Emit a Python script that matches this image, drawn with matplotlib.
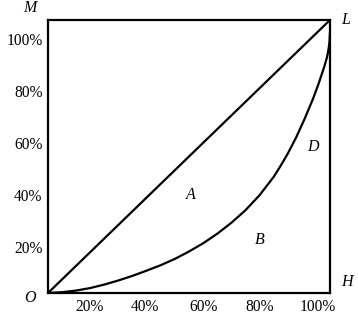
import matplotlib
matplotlib.use("Agg")
from matplotlib import pyplot as plt

plt.rcParams['font.family'] = ['Liberation Serif', 'DejaVu Serif']

# Lorenz curve (population share, income share)
pop_share = [0.0, 0.05, 0.1, 0.149, 0.2, 0.25, 0.3, 0.35, 0.4, 0.45, 0.5,
             0.55, 0.6, 0.65, 0.7, 0.75, 0.8, 0.825, 0.85, 0.88, 0.91, 0.94,
             0.96, 0.98, 0.99, 0.995, 0.998, 1.0]
inc_share = [0.0, 0.003, 0.009, 0.018, 0.031, 0.046, 0.063, 0.082, 0.102,
             0.125, 0.152, 0.182, 0.217, 0.257, 0.303, 0.358, 0.425, 0.466,
             0.51, 0.57, 0.638, 0.712, 0.768, 0.83, 0.866, 0.895, 0.918, 0.955]
# line of equality
equal_x = [0.0, 1.0]
equal_y = [0.0, 1.0]

tick_labels = ['20%', '40%', '60%', '80%', '100%']
xtick_pos = [0.149, 0.344, 0.55, 0.752, 0.957]
ytick_pos = [0.168, 0.359, 0.549, 0.740, 0.930]

fig = plt.figure(figsize=(3.58, 3.21), dpi=100)
ax = fig.add_axes([48/358, 28/321, 282/358, 273/321])
ax.set_xlim(0, 1)
ax.set_ylim(0, 1)

ax.plot(equal_x, equal_y, color='black', lw=1.6, solid_capstyle='butt')
ax.plot(pop_share, inc_share, color='black', lw=1.6)

for s in ax.spines.values():
    s.set_linewidth(1.6)

ax.set_xticks(xtick_pos)
ax.set_xticklabels(tick_labels)
ax.set_yticks(ytick_pos)
ax.set_yticklabels(tick_labels)
ax.tick_params(length=0, labelsize=11.2, pad=4)

kw = dict(fontsize=11.5, style='italic', transform=ax.transAxes)
ax.text(-0.04, 1.045, 'M', ha='right', va='center', **kw)
ax.text(1.04, 1.0, 'L', ha='left', va='center', **kw)
ax.text(-0.045, -0.02, 'O', ha='right', va='center', **kw)
ax.text(1.04, 0.04, 'H', ha='left', va='center', **kw)
ax.text(0.505, 0.359, 'A', ha='center', va='center', **kw)
ax.text(0.752, 0.194, 'B', ha='center', va='center', **kw)
ax.text(0.94, 0.535, 'D', ha='center', va='center', **kw)

fig.savefig('out.png', dpi=100)
